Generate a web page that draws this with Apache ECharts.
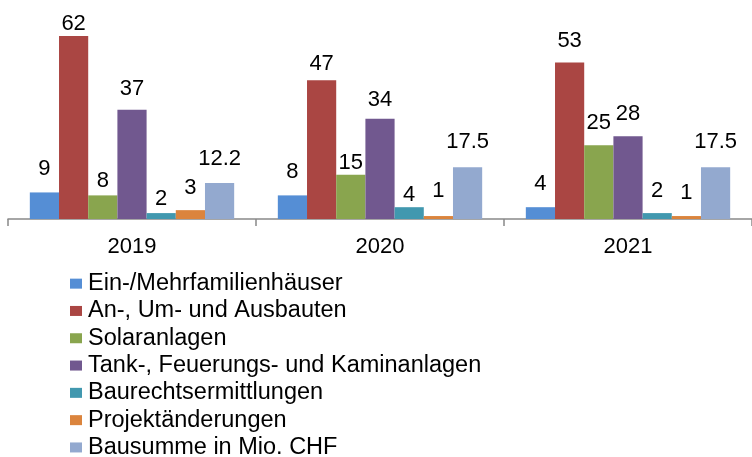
<!DOCTYPE html>
<html><head><meta charset="utf-8">
<script src="https://cdn.jsdelivr.net/npm/echarts@6/dist/echarts.min.js"></script>
<style>html,body{margin:0;padding:0;background:#fff}#c{width:752px;height:457px}</style>
</head><body><div id="c"></div>
<script>
const categories = ['2019', '2020', '2021'];
const seriesNames = ['Ein-/Mehrfamilienhäuser', 'An-, Um- und Ausbauten', 'Solaranlagen', 'Tank-, Feuerungs- und Kaminanlagen', 'Baurechtsermittlungen', 'Projektänderungen', 'Bausumme in Mio. CHF'];
const einMehr = [9, 8, 4];
const anUmAus = [62, 47, 53];
const solar = [8, 15, 25];
const tank = [37, 34, 28];
const baurecht = [2, 4, 2];
const projekt = [3, 1, 1];
const bausumme = [12.2, 17.5, 17.5];
const values = [einMehr, anUmAus, solar, tank, baurecht, projekt, bausumme];

// label gaps above bars (layout only), per series per category
const labelGaps = [[12, 12, 12], [1, 5, 11], [3, 1, 11], [10, 8, 11], [3, 1, 11], [11, 14, 12], [13, 14, 14]];
const colors = ['#558ED5', '#AA4643', '#89A54E', '#71588F', '#4198AF', '#DB843D', '#93A9CF'];
const font = 'Liberation Sans, Arial, sans-serif';

const chart = echarts.init(document.getElementById('c'));
chart.setOption({
  animation: false,
  color: colors,
  grid: { left: 8, right: -6, top: 12.4, bottom: 238, containLabel: false },
  xAxis: {
    type: 'category', data: categories,
    axisLine: { lineStyle: { color: '#898989', width: 1.5 } },
    axisTick: { show: true, length: 7, lineStyle: { color: '#898989', width: 1.5 } },
    axisLabel: { color: '#000', fontFamily: font, fontSize: 22, margin: 17 }
  },
  yAxis: {
    type: 'value', min: 0, max: 70, show: false,
    splitLine: { show: false }
  },
  legend: {
    orient: 'vertical', left: 70, top: 270, height: 200, padding: 0, itemGap: 0,
    itemWidth: 12, itemHeight: 10, icon: 'rect',
    textStyle: { color: '#000', fontFamily: font, fontSize: 23.5, lineHeight: 27.3, padding: [0, 0, 0, 1] },
    data: seriesNames
  },
  series: values.map((v, i) => ({
    name: seriesNames[i], type: 'bar',
    data: v.map((val, j) => ({ value: val, label: { distance: labelGaps[i][j] } })),
    barGap: '0%', barCategoryGap: '17.6%',
    label: { show: true, position: 'top', color: '#000', fontFamily: font, fontSize: 22 }
  }))
});
</script></body></html>
